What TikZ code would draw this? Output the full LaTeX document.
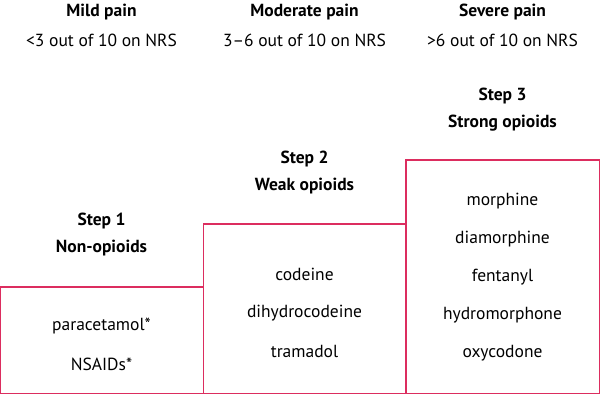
\documentclass[tikz,border=0pt]{standalone}
\usepackage{fontspec}
\setmainfont{PT Sans}
\definecolor{stepred}{RGB}{220,45,95}

\begin{document}
\begin{tikzpicture}[
    x=1pt, y=1pt,
    every node/.style={align=center, font=\fontsize{17.5}{20}\selectfont},
    heading/.style={font=\fontsize{17.5}{20}\selectfont\bfseries},
    stepbox/.style={draw=stepred, line width=1.3pt}
]
\useasboundingbox (0,0) rectangle (600,394);

% the three steps
\draw [stepbox] (0.7,0.7) rectangle (203.5,107);
\draw [stepbox] (203.5,0.7) rectangle (406,170);
\draw [stepbox] (406,0.7) rectangle (599.3,234);

% pain levels
\node [heading] (mild) at (101.5,382) {Mild pain};
\node (mildnrs) at (101.5,354) {<3 out of 10 on NRS};
\node [heading] (moderate) at (304.5,382) {Moderate pain};
\node (moderatenrs) at (304.5,354) {3--6 out of 10 on NRS};
\node [heading] (severe) at (502.5,382) {Severe pain};
\node (severenrs) at (502.5,354) {>6 out of 10 on NRS};

% step titles
\node [heading] (step1) at (101.5,173) {Step 1};
\node [heading] (step1name) at (101.5,146) {Non-opioids};
\node [heading] (step2) at (304.5,235) {Step 2};
\node [heading] (step2name) at (304.5,208) {Weak opioids};
\node [heading] (step3) at (502.5,298) {Step 3};
\node [heading] (step3name) at (502.5,271) {Strong opioids};

% drugs
\node (paracetamol) at (101.5,68) {paracetamol*};
\node (nsaids) at (101.5,30) {NSAIDs*};

\node (codeine) at (304.5,120) {codeine};
\node (dihydrocodeine) at (304.5,81) {dihydrocodeine};
\node (tramadol) at (304.5,43) {tramadol};

\node (morphine) at (502.5,193) {morphine};
\node (diamorphine) at (502.5,155) {diamorphine};
\node (fentanyl) at (502.5,117) {fentanyl};
\node (hydromorphone) at (502.5,79) {hydromorphone};
\node (oxycodone) at (502.5,41) {oxycodone};

\end{tikzpicture}
\end{document}
